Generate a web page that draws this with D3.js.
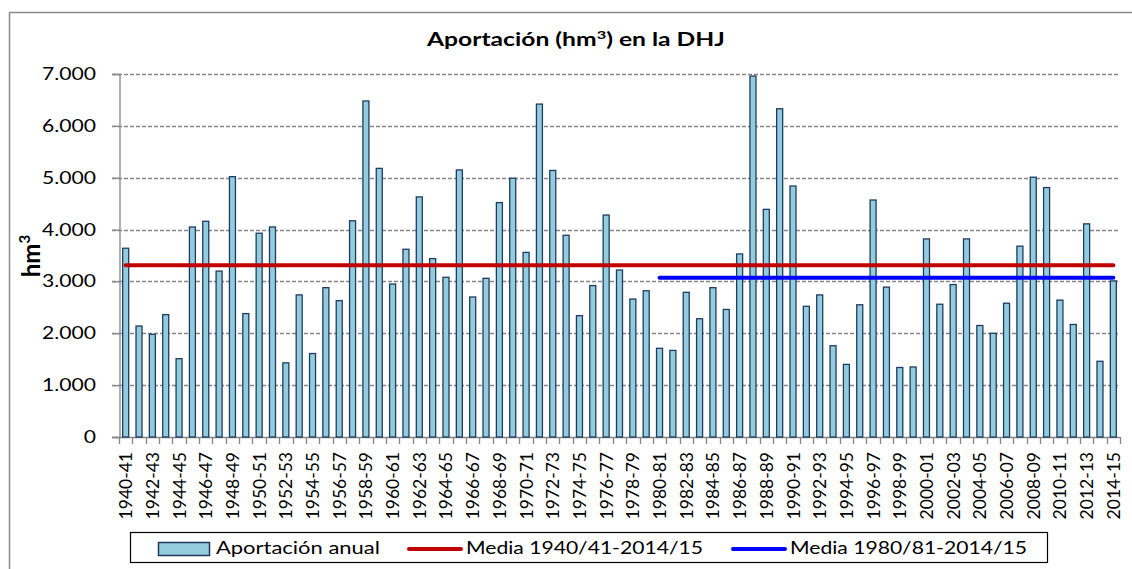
<!DOCTYPE html>
<html>
<head>
<meta charset="utf-8">
<script src="https://cdn.jsdelivr.net/npm/d3@7"></script>
<style>
  body { margin: 0; background: #fff; }
  text { font-family: Lato, "Noto Sans", sans-serif; fill: #000; }
</style>
</head>
<body>
<script>
//============ data =========//
var years = ['1940-41','1941-42','1942-43','1943-44','1944-45','1945-46','1946-47','1947-48','1948-49','1949-50',
  '1950-51','1951-52','1952-53','1953-54','1954-55','1955-56','1956-57','1957-58','1958-59','1959-60',
  '1960-61','1961-62','1962-63','1963-64','1964-65','1965-66','1966-67','1967-68','1968-69','1969-70',
  '1970-71','1971-72','1972-73','1973-74','1974-75','1975-76','1976-77','1977-78','1978-79','1979-80',
  '1980-81','1981-82','1982-83','1983-84','1984-85','1985-86','1986-87','1987-88','1988-89','1989-90',
  '1990-91','1991-92','1992-93','1993-94','1994-95','1995-96','1996-97','1997-98','1998-99','1999-00',
  '2000-01','2001-02','2002-03','2003-04','2004-05','2005-06','2006-07','2007-08','2008-09','2009-10',
  '2010-11','2011-12','2012-13','2013-14','2014-15'];

var aportacion = [3640, 2140, 1980, 2360, 1510, 4050, 4160, 3200, 5020, 2380,
  3930, 4050, 1430, 2740, 1610, 2880, 2630, 4170, 6480, 5180,
  2950, 3620, 4630, 3440, 3080, 5150, 2700, 3060, 4520, 4990,
  3560, 6420, 5140, 3890, 2340, 2920, 4280, 3220, 2660, 2820,
  1710, 1670, 2790, 2280, 2880, 2460, 3530, 6960, 4390, 6330,
  4840, 2520, 2740, 1760, 1400, 2550, 4570, 2890, 1340, 1350,
  3820, 2560, 2940, 3820, 2150, 2000, 2580, 3680, 5010, 4810,
  2640, 2170, 4110, 1460, 3010];

var media4015 = 3310, mediaFrom4015 = '1940-41';
var media8015 = 3070, mediaFrom8015 = '1980-81';

var yTicks = [0, 1000, 2000, 3000, 4000, 5000, 6000, 7000];

var barFill = '#93CDDD',
  barStroke = '#1F3B63',
  redColor = '#C00000',
  blueColor = '#0000FF',
  gridColor = '#868686';

var width = 1132, height = 569;
var plot = {left: 119, right: 1120, top: 74, bottom: 437};

var svg = d3.select('body').append('svg')
  .attr('width', width)
  .attr('height', height);

// the original text is drawn wider than Lato: stretch a text horizontally to a given width
function fitWidth(sel, tx, ty, target) {
  var len = sel.node().getComputedTextLength();
  sel.attr('transform', 'translate(' + tx + ',' + ty + ') scale(' + (target / len) + ',1)');
}

// outer chart frame (cropped: only top and left visible)
svg.append('path')
  .attr('d', 'M9.5,' + height + 'V12.5H' + width)
  .attr('fill', 'none')
  .attr('stroke', '#8c8c8c')
  .attr('stroke-width', 1.5);

// scales
var x = d3.scaleBand().domain(years).range([plot.left, plot.right]).padding(0);
var y = d3.scaleLinear().domain([0, 7000]).range([plot.bottom, plot.top]);

var es = d3.formatLocale({decimal: ',', thousands: '.', grouping: [3], currency: ['', ' €']});
var fmt = es.format(',');

// gridlines
svg.append('g').selectAll('line')
  .data(yTicks.filter(function(d) { return d > 0; }))
  .enter().append('line')
  .attr('x1', plot.left - 7).attr('x2', plot.right)
  .attr('y1', function(d) { return Math.round(y(d)) + 0.5; })
  .attr('y2', function(d) { return Math.round(y(d)) + 0.5; })
  .attr('stroke', gridColor)
  .attr('stroke-width', 1.3)
  .attr('stroke-dasharray', '4,2');

// y axis (line + ticks from d3, labels drawn separately so they can be stretched)
var yAxis = svg.append('g')
  .attr('transform', 'translate(' + (plot.left + 0.5) + ',0)')
  .call(d3.axisLeft(y).tickValues(yTicks).tickFormat('').tickSize(7));
yAxis.select('.domain').attr('stroke', gridColor).attr('stroke-width', 1.3);
yAxis.selectAll('.tick line').attr('stroke', gridColor).attr('stroke-width', 1.3);

var yLabels = svg.append('g').selectAll('text')
  .data(yTicks)
  .enter().append('text')
  .attr('text-anchor', 'end')
  .attr('font-size', 17)
  .text(function(d) { return fmt(d); });
var yStretch = 54 / yLabels.filter(function(d) { return d === 7000; }).node().getComputedTextLength();
yLabels.attr('transform', function(d) { return 'translate(96,' + (y(d) + 6) + ') scale(' + yStretch + ',1)'; });

// x axis: ticks at category boundaries
var bounds = years.map(function(d) { return x(d); }).concat([plot.right]);
svg.append('line')
  .attr('x1', plot.left - 7).attr('x2', plot.right)
  .attr('y1', plot.bottom + 0.5).attr('y2', plot.bottom + 0.5)
  .attr('stroke', gridColor).attr('stroke-width', 1.3);
svg.append('g').selectAll('line')
  .data(bounds)
  .enter().append('line')
  .attr('x1', function(d) { return Math.round(d) + 0.5; })
  .attr('x2', function(d) { return Math.round(d) + 0.5; })
  .attr('y1', plot.bottom).attr('y2', plot.bottom + 7)
  .attr('stroke', gridColor).attr('stroke-width', 1.3);

// x labels (every second year)
svg.append('g').selectAll('text')
  .data(years.filter(function(d, i) { return i % 2 === 0; }))
  .enter().append('text')
  .attr('transform', function(d) {
    return 'translate(' + (x(d) + x.bandwidth() / 2 + 6.5) + ',' + (plot.bottom + 15) + ') rotate(-90)';
  })
  .attr('text-anchor', 'end')
  .attr('font-size', 17.5)
  .text(function(d) { return d; });

// bars
var bw = x.bandwidth() * 0.45;
svg.append('g').selectAll('rect')
  .data(aportacion)
  .enter().append('rect')
  .attr('x', function(d, i) { return x(years[i]) + (x.bandwidth() - bw) / 2; })
  .attr('y', function(d) { return y(d); })
  .attr('width', bw)
  .attr('height', function(d) { return y(0) - y(d); })
  .attr('fill', barFill)
  .attr('stroke', barStroke)
  .attr('stroke-width', 1.3);

// mean lines
function meanLine(val, from, color) {
  svg.append('line')
    .attr('x1', x(from) + x.bandwidth() / 2)
    .attr('x2', x(years[years.length - 1]) + x.bandwidth() / 2)
    .attr('y1', y(val)).attr('y2', y(val))
    .attr('stroke', color)
    .attr('stroke-width', 4)
    .attr('stroke-linecap', 'round');
}
meanLine(media4015, mediaFrom4015, redColor);
meanLine(media8015, mediaFrom8015, blueColor);

// title
var title = svg.append('text')
  .attr('text-anchor', 'start')
  .attr('font-size', 18)
  .attr('font-weight', 'bold');
title.append('tspan').text('Aportación (hm');
title.append('tspan').attr('font-size', 12).attr('dy', -7).text('3');
title.append('tspan').attr('dy', 7).text(') en la DHJ');
fitWidth(title, 427, 46, 298);

// y label
var ylab = svg.append('text')
  .attr('transform', 'translate(40,256) rotate(-90)')
  .attr('text-anchor', 'middle')
  .attr('font-size', 24)
  .attr('font-weight', 'bold');
ylab.append('tspan').text('hm');
ylab.append('tspan').attr('font-size', 15).attr('dy', -10).text('3');

// legend
var lg = svg.append('g');
lg.append('rect')
  .attr('x', 130.5).attr('y', 532.5).attr('width', 917).attr('height', 30)
  .attr('fill', '#fff').attr('stroke', '#000').attr('stroke-width', 1.2);
lg.append('rect')
  .attr('x', 158.5).attr('y', 542.5).attr('width', 51).attr('height', 13)
  .attr('fill', barFill).attr('stroke', barStroke).attr('stroke-width', 1.5);
lg.append('line').attr('x1', 409).attr('x2', 461).attr('y1', 549).attr('y2', 549)
  .attr('stroke', redColor).attr('stroke-width', 4).attr('stroke-linecap', 'round');
lg.append('line').attr('x1', 733).attr('x2', 785).attr('y1', 549).attr('y2', 549)
  .attr('stroke', blueColor).attr('stroke-width', 4).attr('stroke-linecap', 'round');
var legendText = [
  {x: 216, w: 164, label: 'Aportación anual'},
  {x: 466, w: 237, label: 'Media 1940/41-2014/15'},
  {x: 790, w: 237, label: 'Media 1980/81-2014/15'}
];
lg.selectAll('text.leg')
  .data(legendText)
  .enter().append('text')
  .attr('class', 'leg')
  .attr('font-size', 17)
  .text(function(d) { return d.label; })
  .each(function(d) { fitWidth(d3.select(this), d.x, 554, d.w); });
</script>
</body>
</html>
